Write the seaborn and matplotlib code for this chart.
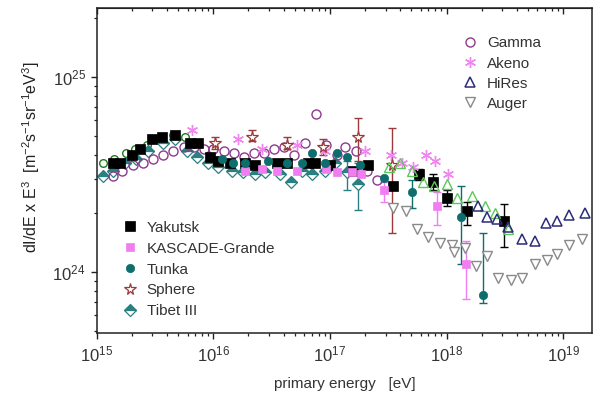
import numpy as np
import pandas as pd
import matplotlib
matplotlib.use('Agg')
import matplotlib.pyplot as plt
import seaborn as sns
from matplotlib.ticker import LogLocator, NullFormatter

# values: log10(E / eV) and log10(dI/dE * E^3)
gamma_lgE = [15.14, 15.22, 15.31, 15.40, 15.48, 15.57, 15.65, 15.75, 15.83, 15.92,
             16.00, 16.09, 16.18, 16.26, 16.35, 16.43, 16.52, 16.61, 16.69, 16.79,
             16.88, 16.97, 17.06, 17.13, 17.22, 17.32, 17.40]
gamma_lgJ = [24.49, 24.52, 24.55, 24.56, 24.58, 24.60, 24.62, 24.64, 24.64, 24.63,
             24.63, 24.62, 24.61, 24.59, 24.61, 24.61, 24.63, 24.64, 24.60, 24.66,
             24.81, 24.65, 24.60, 24.64, 24.62, 24.52, 24.47]

akeno_lgE = [15.82, 16.21, 16.42, 16.72, 16.96, 17.30, 17.52, 17.62, 17.71, 17.82, 17.90, 18.01]
akeno_lgJ = [24.73, 24.68, 24.63, 24.65, 24.62, 24.62, 24.60, 24.56, 24.54, 24.60, 24.57, 24.50]

hires_lgE = [18.27, 18.35, 18.43, 18.53, 18.65, 18.76, 18.85, 18.95, 19.05, 19.19]
hires_lgJ = [24.34, 24.28, 24.27, 24.23, 24.17, 24.16, 24.25, 24.26, 24.29, 24.30]

auger_lgE = [17.54, 17.65, 17.75, 17.84, 17.94, 18.05, 18.06, 18.16, 18.25, 18.35,
             18.44, 18.55, 18.65, 18.76, 18.86, 18.95, 19.05, 19.16]
auger_lgJ = [24.33, 24.31, 24.22, 24.18, 24.15, 24.14, 24.10, 24.12, 24.03, 24.08,
             23.97, 23.96, 23.97, 24.04, 24.06, 24.09, 24.14, 24.17]

yakutsk_lgE = [15.14, 15.20, 15.30, 15.37, 15.47, 15.56, 15.67, 15.80, 15.87, 15.97,
               16.04, 16.14, 16.27, 16.36, 16.55, 16.63, 16.81, 16.87, 17.00, 17.20,
               17.33, 17.54, 17.76, 17.88, 18.00, 18.18, 18.49]
yakutsk_lgJ = [24.56, 24.56, 24.60, 24.63, 24.68, 24.69, 24.70, 24.66, 24.66, 24.59,
               24.57, 24.56, 24.56, 24.55, 24.56, 24.56, 24.56, 24.56, 24.55, 24.52,
               24.55, 24.44, 24.50, 24.46, 24.38, 24.31, 24.26]
# error bars of the last five Yakutsk points
yakutsk_hi = [24.53, 24.50, 24.42, 24.36, 24.35]
yakutsk_lo = [24.47, 24.42, 24.34, 24.24, 24.13]

kascade_lgE = [16.27, 16.42, 16.55, 16.72, 16.97, 17.06, 17.19, 17.27, 17.46, 17.92, 18.17]
kascade_lgJ = [24.52, 24.53, 24.52, 24.52, 24.53, 24.51, 24.51, 24.50, 24.42, 24.34, 24.04]
kascade_hi = [24.46, 24.41, 24.16]
kascade_lo = [24.36, 24.24, 23.86]

tunka_lgE = [16.07, 16.17, 16.27, 16.47, 16.63, 16.76, 16.85, 16.96, 17.06, 17.15,
             17.26, 17.46, 17.70, 18.12, 18.31]
tunka_lgJ = [24.58, 24.56, 24.56, 24.57, 24.56, 24.56, 24.61, 24.56, 24.61, 24.59,
             24.55, 24.48, 24.41, 24.28, 23.88]
tunka_hi = [24.47, 24.44, 24.20]
tunka_lo = [24.33, 24.04, 23.84]

sphere_lgE = [16.01, 16.33, 16.63, 16.94, 17.24, 17.53]
sphere_lgJ = [24.66, 24.69, 24.65, 24.64, 24.69, 24.55]
sphere_hi = [24.69, 24.73, 24.69, 24.68, 24.79, 24.74]
sphere_lo = [24.63, 24.67, 24.63, 24.60, 24.57, 24.20]

tibet_lgE = [15.05, 15.14, 15.24, 15.34, 15.44, 15.57, 15.67, 15.77, 15.86, 15.95,
             16.04, 16.16, 16.25, 16.36, 16.44, 16.57, 16.67, 16.76, 16.85, 16.96,
             17.04, 17.15, 17.24]
tibet_lgJ = [24.49, 24.52, 24.56, 24.58, 24.62, 24.66, 24.68, 24.62, 24.59, 24.56,
             24.54, 24.52, 24.51, 24.50, 24.51, 24.50, 24.46, 24.52, 24.50, 24.52,
             24.56, 24.51, 24.45]
tibet_hi = [24.57, 24.56]
tibet_lo = [24.42, 24.32]

# unlabelled sets (green)
grc_lgE = [15.05, 15.15, 15.25, 15.33, 15.43, 15.54, 15.65, 15.76]
grc_lgJ = [24.56, 24.58, 24.61, 24.63, 24.65, 24.68, 24.70, 24.69]
grt_lgE = [17.51, 17.60, 17.70, 17.80, 17.89, 18.00, 18.09, 18.22, 18.33, 18.42, 18.53]
grt_lgJ = [24.54, 24.56, 24.52, 24.46, 24.44, 24.45, 24.38, 24.39, 24.34, 24.30, 24.22]

sns.set_style('ticks')
plt.rcParams['font.family'] = ['Liberation Sans', 'DejaVu Sans']
plt.rcParams['mathtext.fontset'] = 'custom'
plt.rcParams['mathtext.rm'] = 'Liberation Sans'
plt.rcParams['mathtext.it'] = 'Liberation Sans:italic'
plt.rcParams['mathtext.bf'] = 'Liberation Sans:bold'

fig, ax = plt.subplots(figsize=(5.94, 3.94), dpi=100)
fig.subplots_adjust(left=0.163, right=0.997, bottom=0.155, top=0.980)
ax.set_xscale('log')
ax.set_yscale('log')


def pts(lgE, lgJ, label, **kw):
    d = pd.DataFrame({'E': np.power(10.0, lgE), 'J': np.power(10.0, lgJ)})
    sns.lineplot(data=d, x='E', y='J', ax=ax, estimator=None, sort=False,
                 linestyle='none', legend=False, label=label, **kw)


def bars(lgE, lgJ, lo, hi, c):
    n = len(lo)
    x = np.power(10.0, lgE[-n:])
    y = np.power(10.0, lgJ[-n:])
    ylo = y - np.power(10.0, lo)
    yhi = np.power(10.0, hi) - y
    ax.errorbar(x, y, yerr=[ylo, yhi], fmt='none', ecolor=c, elinewidth=1.0,
                capsize=3, capthick=1.0, zorder=2)


c_gamma = '#8C3A8C'
c_akeno = '#EE88EE'
c_hires = '#2B2B78'
c_auger = '#8A8A8A'
c_kg = '#F07EF0'
c_tunka = '#0E6E6E'
c_sphere = '#9A3A3A'
c_tibet = '#2A8080'

bars(sphere_lgE, sphere_lgJ, sphere_lo, sphere_hi, c_sphere)
bars(tunka_lgE, tunka_lgJ, tunka_lo, tunka_hi, c_tunka)
bars(tibet_lgE, tibet_lgJ, tibet_lo, tibet_hi, c_tibet)
bars(kascade_lgE, kascade_lgJ, kascade_lo, kascade_hi, c_kg)
bars(yakutsk_lgE, yakutsk_lgJ, yakutsk_lo, yakutsk_hi, 'black')

pts(grc_lgE, grc_lgJ, '_nolegend_', color='#1F7A1F', marker='o', markersize=5.5,
    markerfacecolor='white', markeredgecolor='#1F7A1F', markeredgewidth=1.0)
pts(tibet_lgE, tibet_lgJ, 'Tibet III', color=c_tibet, marker='D', markersize=6,
    fillstyle='top', markerfacecolor=c_tibet, markerfacecoloralt='white',
    markeredgecolor=c_tibet, markeredgewidth=0.9)
pts(gamma_lgE, gamma_lgJ, 'Gamma', color=c_gamma, marker='o', markersize=6.5,
    markerfacecolor='none', markeredgecolor=c_gamma, markeredgewidth=1.0)
pts(yakutsk_lgE, yakutsk_lgJ, 'Yakutsk', color='black', marker='s', markersize=6.5,
    markerfacecolor='black', markeredgecolor='black', markeredgewidth=0.5)
pts(kascade_lgE, kascade_lgJ, 'KASCADE-Grande', color=c_kg, marker='s', markersize=5.5,
    markerfacecolor=c_kg, markeredgecolor=c_kg, markeredgewidth=0.5)
pts(tunka_lgE, tunka_lgJ, 'Tunka', color=c_tunka, marker='o', markersize=6,
    markerfacecolor=c_tunka, markeredgecolor=c_tunka, markeredgewidth=0.5)
pts(akeno_lgE, akeno_lgJ, 'Akeno', color=c_akeno, marker=(6, 2, 0), markersize=8,
    markerfacecolor=c_akeno, markeredgecolor=c_akeno, markeredgewidth=1.0)
pts(sphere_lgE, sphere_lgJ, 'Sphere', color=c_sphere, marker='*', markersize=8.5,
    markerfacecolor='white', markeredgecolor=c_sphere, markeredgewidth=0.9)
pts(grt_lgE, grt_lgJ, '_nolegend_', color='#5CC85C', marker='^', markersize=7,
    markerfacecolor='none', markeredgecolor='#5CC85C', markeredgewidth=1.0)
pts(hires_lgE, hires_lgJ, 'HiRes', color=c_hires, marker='^', markersize=7,
    markerfacecolor='none', markeredgecolor=c_hires, markeredgewidth=1.1)
pts(auger_lgE, auger_lgJ, 'Auger', color=c_auger, marker='v', markersize=7,
    markerfacecolor='white', markeredgecolor=c_auger, markeredgewidth=1.0)

ax.set_xlim(1e15, 10 ** 19.25)
ax.set_ylim(10 ** 23.687, 10 ** 25.354)

ax.xaxis.set_major_locator(LogLocator(base=10, numticks=10))
ax.xaxis.set_minor_locator(LogLocator(base=10, subs=np.arange(2, 10), numticks=20))
ax.yaxis.set_major_locator(LogLocator(base=10, numticks=10))
ax.yaxis.set_minor_locator(LogLocator(base=10, subs=np.arange(2, 10), numticks=20))
ax.xaxis.set_minor_formatter(NullFormatter())
ax.yaxis.set_minor_formatter(NullFormatter())

for s in ax.spines.values():
    s.set_linewidth(1.1)
    s.set_color('#222222')
ax.tick_params(which='both', direction='out', top=False, right=False,
               colors='#222222', labelcolor='#333333', labelsize=12)
ax.tick_params(which='major', length=4, width=1.0, pad=4)
ax.tick_params(which='minor', length=2.2, width=0.9)

# mirrored ticks on top pointing inward
ax2 = ax.secondary_xaxis('top')
ax2.xaxis.set_major_locator(LogLocator(base=10, numticks=10))
ax2.xaxis.set_minor_locator(LogLocator(base=10, subs=np.arange(2, 10), numticks=20))
ax2.tick_params(which='both', direction='in', labeltop=False, colors='#222222')
ax2.tick_params(which='major', length=4, width=1.0)
ax2.tick_params(which='minor', length=2.2, width=0.9)
ax2.xaxis.set_major_formatter(NullFormatter())
ax2.xaxis.set_minor_formatter(NullFormatter())

ax.set_xlabel('primary energy   [eV]', fontsize=11, color='#333333')
ax.xaxis.set_label_coords(0.5, -0.135)
ax.set_ylabel(r'dI/dE x E$^3$  [m$^{-2}$s$^{-1}$sr$^{-1}$eV$^3$]', fontsize=11.5,
              color='#222222')
ax.yaxis.set_label_coords(-0.11, 0.54)

handles, labels = ax.get_legend_handles_labels()
hmap = dict(zip(labels, handles))

top_names = ['Gamma', 'Akeno', 'HiRes', 'Auger']
low_names = ['Yakutsk', 'KASCADE-Grande', 'Tunka', 'Sphere', 'Tibet III']

leg1 = ax.legend([hmap[k] for k in top_names], top_names,
                 loc='upper left', bbox_to_anchor=(0.738, 0.912), frameon=False,
                 fontsize=11, handlelength=1.0, handletextpad=0.6, labelspacing=0.4,
                 borderpad=0, borderaxespad=0, labelcolor='#333333')
ax.add_artist(leg1)
ax.legend([hmap[k] for k in low_names], low_names,
          loc='upper left', bbox_to_anchor=(0.0515, 0.345), frameon=False,
          fontsize=11, handlelength=1.0, handletextpad=0.6, labelspacing=0.45,
          borderpad=0, borderaxespad=0, labelcolor='#333333')

fig.savefig('out.png', dpi=100)
